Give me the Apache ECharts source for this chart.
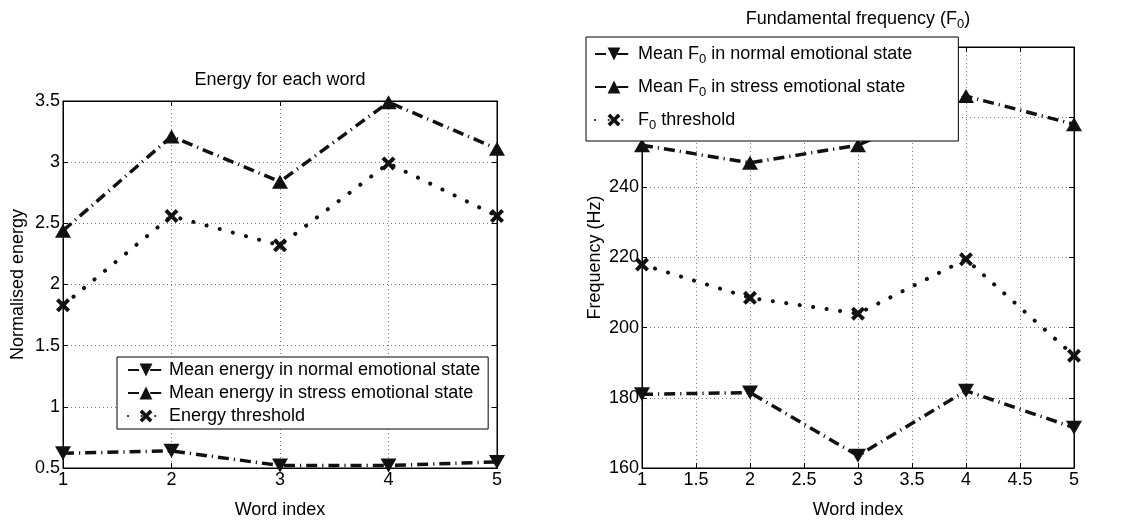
<!DOCTYPE html>
<html>
<head>
<meta charset="utf-8">
<script src="https://cdn.jsdelivr.net/npm/echarts@6/dist/echarts.min.js"></script>
<style>
  html, body { margin: 0; padding: 0; background: #fff; }
  #chart { width: 1121px; height: 524px; }
</style>
</head>
<body>
<div id="chart"></div>
<script>
// Word positions shared by both panels
const wordIndex = [1, 2, 3, 4, 5];

// Energy panel (normalised)
const energyNormal = [0.62, 0.64, 0.52, 0.52, 0.55];
const energyStress = [2.44, 3.21, 2.84, 3.49, 3.11];
const energyThreshold = [1.83, 2.56, 2.32, 2.99, 2.56];

// Fundamental frequency panel (Hz)
const f0Normal = [181, 181.5, 163.5, 182, 171.5];
const f0Stress = [252, 247, 252, 266, 258];
const f0Threshold = [218, 208.5, 204, 219.5, 192];

const energyNames = [
  'Mean energy in normal emotional state',
  'Mean energy in stress emotional state',
  'Energy threshold'
];
const f0Names = [
  'Mean F0 in normal emotional state',
  'Mean F0 in stress emotional state',
  'F0 threshold'
];

const FONT = "'Liberation Sans', Arial, Helvetica, sans-serif";
const FS = 18;
const INK = '#111';
const CROSS = 'path://M0,2 L2,0 L5,3 L8,0 L10,2 L7,5 L10,8 L8,10 L5,7 L2,10 L0,8 L3,5 Z';

const pairs = ys => wordIndex.map((x, i) => [x, ys[i]]);

const dashDot = { color: INK, width: 3.5, type: [11, 5, 1.2, 5], cap: 'butt' };
const dotted = { color: INK, width: 4, type: [0.1, 13.5], cap: 'round' };

function xAxisFor(grid, interval, top) {
  return {
    type: 'value', gridIndex: grid, min: 1, max: 5, interval: interval,
    position: top ? 'top' : 'bottom',
    name: top ? '' : 'Word index', nameLocation: 'middle', nameGap: 33,
    nameTextStyle: { fontFamily: FONT, fontSize: FS, color: '#000' },
    axisLine: { show: true, lineStyle: { color: '#000', width: 1 } },
    axisTick: { show: true, inside: true, length: 5, lineStyle: { color: '#000' } },
    axisLabel: { show: !top, fontFamily: FONT, fontSize: FS, color: '#000', margin: 3 },
    splitLine: { show: !top, lineStyle: { color: '#777', width: 1, type: [1, 3] } }
  };
}

function yAxisFor(grid, min, max, interval, name, right, gap) {
  return {
    type: 'value', gridIndex: grid, min: min, max: max, interval: interval,
    position: right ? 'right' : 'left',
    name: right ? '' : name, nameLocation: 'middle', nameGap: gap,
    nameTextStyle: { fontFamily: FONT, fontSize: FS, color: '#000' },
    axisLine: { show: true, lineStyle: { color: '#000', width: 1 } },
    axisTick: { show: true, inside: true, length: 5, lineStyle: { color: '#000' } },
    axisLabel: { show: !right, fontFamily: FONT, fontSize: FS, color: '#000', margin: 3 },
    splitLine: { show: !right, lineStyle: { color: '#777', width: 1, type: [1, 3] } }
  };
}

function lineSeries(name, data, xi, yi, style, symbol, size, rotate) {
  return {
    type: 'line', name: name, data: data, xAxisIndex: xi, yAxisIndex: yi,
    lineStyle: style, symbol: symbol, symbolSize: size, symbolRotate: rotate || 0,
    showSymbol: true, itemStyle: { color: INK, borderWidth: 0 },
    emphasis: { disabled: true }, clip: false, z: 3
  };
}

const subRich = {
  sub: { fontFamily: FONT, fontSize: 13, color: '#000', verticalAlign: 'bottom', padding: [11, 0, 0, 0] }
};

const chart = echarts.init(document.getElementById('chart'));
chart.setOption({
  animation: false,
  backgroundColor: '#fff',
  grid: [
    { left: 63, top: 101, width: 434, height: 375, show: true, borderColor: '#000', borderWidth: 1, containLabel: false },
    { left: 642, top: 47, width: 432, height: 429, show: true, borderColor: '#000', borderWidth: 1, containLabel: false }
  ],
  xAxis: [
    xAxisFor(0, 1, false), xAxisFor(0, 1, true),
    xAxisFor(1, 0.5, false), xAxisFor(1, 0.5, true)
  ],
  yAxis: [
    yAxisFor(0, 0.5, 3.5, 0.5, 'Normalised energy', false, 36),
    yAxisFor(0, 0.5, 3.5, 0.5, '', true, 0),
    yAxisFor(1, 160, 280, 20, 'Frequency (Hz)', false, 38),
    yAxisFor(1, 160, 280, 20, '', true, 0)
  ],
  legend: [
    {
      orient: 'vertical', left: 117, top: 357, z: 10,
      data: energyNames,
      itemWidth: 36, itemHeight: 16, itemGap: 5,
      padding: [4, 8, 4, 10],
      backgroundColor: '#fff', borderColor: '#000', borderWidth: 1, borderRadius: 0,
      textStyle: { fontFamily: FONT, fontSize: FS, color: '#000' },
      selectedMode: false
    },
    {
      orient: 'vertical', left: 586, top: 37, z: 10,
      data: f0Names,
      itemWidth: 38, itemHeight: 16, itemGap: 12,
      padding: [8, 46, 9, 8],
      backgroundColor: '#fff', borderColor: '#000', borderWidth: 1, borderRadius: 0,
      formatter: n => n.replace('F0', 'F{sub|0}'),
      textStyle: { fontFamily: FONT, fontSize: FS, color: '#000', rich: subRich },
      selectedMode: false
    }
  ],
  graphic: [
    {
      type: 'text', z: 20,
      style: { text: 'Energy for each word', x: 280, y: 80, align: 'center', verticalAlign: 'middle',
               fontFamily: FONT, fontSize: FS, fill: '#000' }
    },
    {
      type: 'text', z: 20,
      style: { text: 'Fundamental frequency (F{sub|0})', x: 858, y: 19, align: 'center', verticalAlign: 'middle',
               fontFamily: FONT, fontSize: FS, fill: '#000', rich: subRich }
    }
  ],
  series: [
    lineSeries(energyNames[0], pairs(energyNormal), 0, 0, dashDot, 'triangle', [16, 14], 180),
    lineSeries(energyNames[1], pairs(energyStress), 0, 0, dashDot, 'triangle', [16, 14], 0),
    lineSeries(energyNames[2], pairs(energyThreshold), 0, 0, dotted, CROSS, 14, 0),
    lineSeries(f0Names[0], pairs(f0Normal), 2, 2, dashDot, 'triangle', [16, 14], 180),
    lineSeries(f0Names[1], pairs(f0Stress), 2, 2, dashDot, 'triangle', [16, 14], 0),
    lineSeries(f0Names[2], pairs(f0Threshold), 2, 2, dotted, CROSS, 14, 0)
  ]
});
</script>
</body>
</html>
